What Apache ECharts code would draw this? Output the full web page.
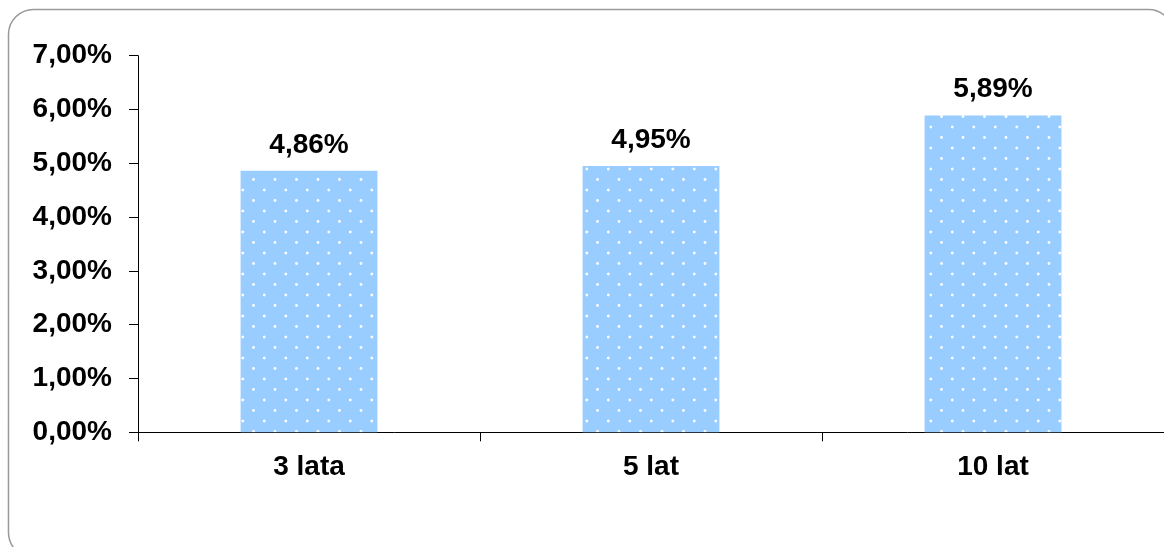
<!DOCTYPE html>
<html>
<head>
<meta charset="utf-8">
<script src="https://cdn.jsdelivr.net/npm/echarts@6/dist/echarts.min.js"></script>
<style>
html,body{margin:0;padding:0;background:#fff;}
#chart{width:1164px;height:547px;}
</style>
</head>
<body>
<div id="chart"></div>
<script>
const categories = ['3 lata', '5 lat', '10 lat'];
const values = [4.86, 4.95, 5.89];
const yMin = 0, yMax = 7, yInterval = 1;

function fmt(v) { return v.toFixed(2).replace('.', ',') + '%'; }

// dotted fill pattern
const tile = document.createElement('canvas');
tile.width = 43; tile.height = 21;
const c = tile.getContext('2d');
c.fillStyle = '#99CCFF';
c.fillRect(0, 0, 43, 21);
c.fillStyle = '#ffffff';
[[6.3, 1], [27.8, 1], [17, 11.5], [38.5, 11.5], [6.3, 22], [27.8, 22]].forEach(function (p) {
  c.beginPath(); c.arc(p[0], p[1], 1.4, 0, Math.PI * 2); c.fill();
});

const font = '"Liberation Sans", Arial, sans-serif';
const chart = echarts.init(document.getElementById('chart'), null, { renderer: 'canvas' });
chart.setOption({
  animation: false,
  backgroundColor: '#fff',
  graphic: [{
    type: 'rect', silent: true, z: -1,
    shape: { x: 8.5, y: 9.5, width: 1165, height: 548, r: 25 },
    style: { fill: 'none', stroke: '#9a9a9a', lineWidth: 1.5 }
  }],
  grid: { left: 138, width: 1032, top: 55.7, height: 376.6, containLabel: false },
  xAxis: {
    type: 'category',
    data: categories,
    axisLine: { lineStyle: { color: '#000', width: 1 } },
    axisTick: { show: true, length: 9, lineStyle: { color: '#000' }, alignWithLabel: false },
    axisLabel: { color: '#000', fontFamily: font, fontWeight: 'bold', fontSize: 28, margin: 21 }
  },
  yAxis: {
    type: 'value',
    min: yMin, max: yMax, interval: yInterval,
    axisLine: { show: true, lineStyle: { color: '#000', width: 1 } },
    axisTick: { show: true, length: 9, lineStyle: { color: '#000' } },
    splitLine: { show: false },
    axisLabel: { color: '#000', fontFamily: font, fontWeight: 'bold', fontSize: 28, margin: 26,
      formatter: function (v) { return fmt(v); } }
  },
  series: [{
    type: 'bar',
    data: values,
    barWidth: '40%',
    itemStyle: { color: { image: tile, repeat: 'repeat' } },
    label: {
      show: true, position: 'top', distance: 12,
      color: '#000', fontFamily: font, fontWeight: 'bold', fontSize: 28,
      formatter: function (p) { return fmt(p.value); }
    }
  }]
});
</script>
</body>
</html>
